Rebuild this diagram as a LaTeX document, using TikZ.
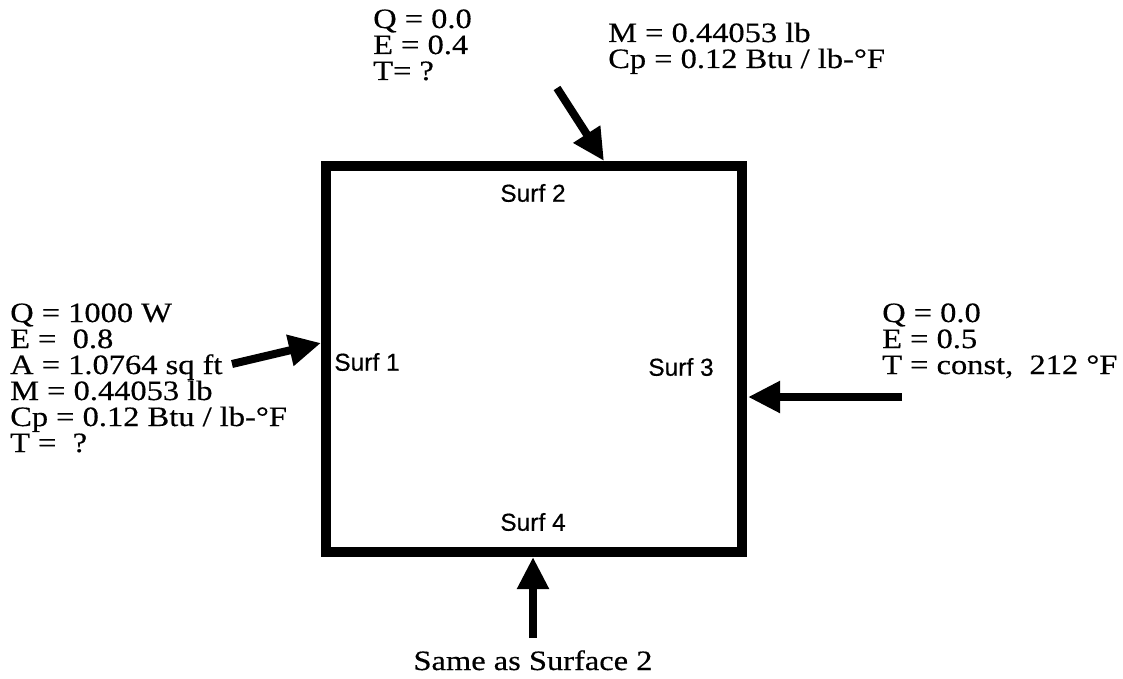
\documentclass[tikz,border=0pt]{standalone}
\usepackage{fontspec}
\setmainfont{Liberation Serif}[FakeStretch=1.16,FakeBold=0.4]
\setsansfont{Liberation Sans}[FakeBold=0.5]
\usetikzlibrary{arrows.meta}
\tikzset{
  lbl/.style={font=\fontsize{28}{26}\selectfont, align=left, anchor=base west, inner sep=0pt},
  surf/.style={font=\sffamily\fontsize{24.5}{24.5}\selectfont, inner sep=0pt},
  bigarrow/.style={line width=8pt, -{Triangle[length=32pt,width=30pt]}},
}
\begin{document}
\begin{tikzpicture}[x=1pt,y=-1pt]
\useasboundingbox (0,0) rectangle (1123,679);
% box
\node (box) [draw, line width=10pt, minimum width=416pt, minimum height=386pt, inner sep=0pt] at (534,359) {};
% surface labels
\node[surf] (s2) at (533,193) {Surf 2};
\node[surf] (s1) at (367,362) {Surf 1};
\node[surf] (s3) at (681,367) {Surf 3};
\node[surf] (s4) at (533,522) {Surf 4};
% text blocks (anchor = baseline of the last line)
\node[lbl] (top1) at (373,80) {Q = 0.0\\E = 0.4\\T= ?};
\node[lbl] (top2) at (608,68) {M = 0.44053 lb\\Cp = 0.12 Btu / lb-°F};
\node[lbl] (left) at (10,452) {Q = 1000 W\\E = \ 0.8\\A = 1.0764 sq ft\\M = 0.44053 lb\\Cp = 0.12 Btu / lb-°F\\T = \ ?};
\node[lbl] (right) at (882,374) {Q = 0.0\\E = 0.5\\T = const, \ 212 °F};
\node[font=\fontsize{28}{26}\selectfont, inner sep=0pt, anchor=base] (bot) at (533,670) {Same as Surface 2};
% arrows
\coordinate (a2s) at (557,88);
\coordinate (a2e) at (604,161);
\coordinate (a1s) at (232,364);
\coordinate (a1e) at (321,343);
\coordinate (a3s) at (902,397);
\coordinate (a3e) at (748,397);
\coordinate (a4s) at (533,638);
\coordinate (a4e) at (533,557);
\draw[bigarrow] (a2s) -- (a2e);
\draw[bigarrow] (a1s) -- (a1e);
\draw[bigarrow] (a3s) -- (a3e);
\draw[bigarrow] (a4s) -- (a4e);
\end{tikzpicture}
\end{document}
